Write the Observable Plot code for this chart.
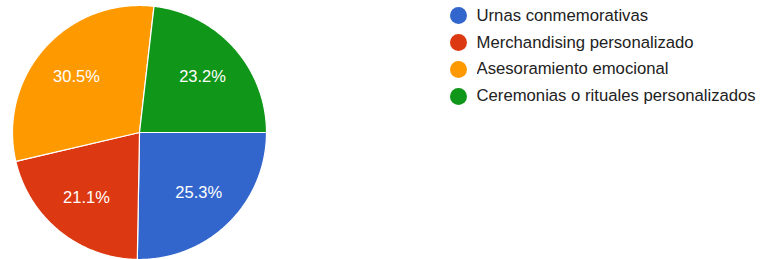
<!DOCTYPE html>
<html>
<head>
<meta charset="utf-8">
<script src="https://cdn.jsdelivr.net/npm/d3@7"></script>
<script src="https://cdn.jsdelivr.net/npm/@observablehq/plot@0.6"></script>
<style>
  html, body { margin: 0; padding: 0; background: #fff; }
  #wrap { position: relative; width: 761px; height: 259px; overflow: hidden; }
  #legend { position: absolute; left: 450px; top: 2.6px; }
  .lg-swatches-columns { columns: 1 !important; margin: 0 !important; }
  .lg-swatch { height: 26.7px; padding-bottom: 0 !important; }
  .lg-swatch svg { margin-right: 9.5px !important; }
  .lg-swatch rect { rx: 50%; ry: 50%; }
  .lg-label { color: #222222; font-size: 16.7px; }
</style>
</head>
<body>
<div id="wrap"><div id="legend"></div></div>
<script>
const categories = ["Urnas conmemorativas", "Merchandising personalizado", "Asesoramiento emocional", "Ceremonias o rituales personalizados"];
const values = [25.3, 21.1, 30.5, 23.2];
const colors = ["#3366cc", "#dc3912", "#ff9900", "#109618"];

const arcs = d3.pie().sort(null).value(d => d.value)
  .startAngle(Math.PI / 2).endAngle(Math.PI / 2 + 2 * Math.PI)(
    categories.map((c, i) => ({category: c, value: values[i]}))
  );

// polygon vertices for each slice in unit-circle data space
const slicePts = [];
arcs.forEach(a => {
  const n = Math.max(2, Math.ceil((a.endAngle - a.startAngle) / 0.01));
  slicePts.push({category: a.data.category, x: 0, y: 0});
  for (let k = 0; k <= n; k++) {
    const t = a.startAngle + (a.endAngle - a.startAngle) * k / n;
    slicePts.push({category: a.data.category, x: Math.sin(t), y: Math.cos(t)});
  }
});

const labels = arcs.map(a => {
  const m = (a.startAngle + a.endAngle) / 2;
  return {x: Math.sin(m) * 0.665, y: Math.cos(m) * 0.665, text: a.data.value.toFixed(1) + "%"};
});

const colorScale = {domain: categories, range: colors};

const chart = Plot.plot({
  width: 761,
  height: 259,
  margin: 0,
  style: {fontFamily: "'Liberation Sans', Arial, sans-serif", background: "transparent"},
  x: {domain: [-1, 1], range: [12, 266], axis: null},
  y: {domain: [-1, 1], range: [259, 5], axis: null},
  color: colorScale,
  marks: [
    Plot.line(slicePts, {x: "x", y: "y", z: "category", fill: "category", stroke: "#ffffff", strokeWidth: 1.2, strokeOpacity: 1, curve: "linear-closed"}),
    Plot.text(labels, {x: "x", y: "y", text: "text", fill: "#ffffff", fontSize: 16.5, textAnchor: "middle"})
  ]
});
document.getElementById("wrap").prepend(chart);

const legend = Plot.legend({
  color: colorScale,
  legend: "swatches",
  columns: 1,
  swatchSize: 17,
  className: "lg",
  style: {fontFamily: "'Liberation Sans', Arial, sans-serif", fontSize: "16.7px", color: "#222222"}
});
document.getElementById("legend").appendChild(legend);
</script>
</body>
</html>
